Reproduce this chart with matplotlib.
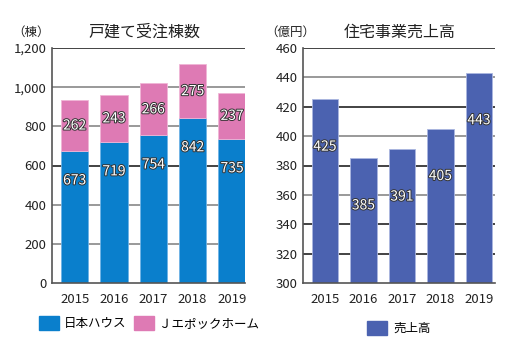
import matplotlib
matplotlib.use("Agg")
import matplotlib.pyplot as plt
import matplotlib.patheffects as pe
from matplotlib.patches import Patch

plt.rcParams['font.family'] = ['Noto Sans CJK JP', 'DejaVu Sans']

# - DATA - #
years = ['2015', '2016', '2017', '2018', '2019']
nihon_house = [673, 719, 754, 842, 735]
jepoch_home = [262, 243, 266, 275, 237]
sales = [425, 385, 391, 405, 443]

blue = '#0a7fcc'
pink = '#de7ab4'
navy = '#4b62b0'
dark = '#222222'
gray = '#888888'

fig = plt.figure(figsize=(5.05, 3.47), dpi=100)
W, H = 505, 347

def px_axes(x0, x1, y0, y1):
    return fig.add_axes([x0 / W, 1 - y1 / H, (x1 - x0) / W, (y1 - y0) / H])

stroke = [pe.withStroke(linewidth=1.4, foreground='#333333')]

def style(ax, ticks, grid_colors, labels):
    for y, c in zip(ticks[1:], grid_colors):
        ax.axhline(y, color=c, lw=1.2, zorder=1)
    ax.set_yticks(ticks)
    ax.set_yticklabels(labels, fontsize=9.5, color='#222222')
    ax.set_xticks(range(len(years)))
    ax.set_xticklabels(years, fontsize=9.5, color='#222222')
    ax.tick_params(axis='both', length=0)
    ax.tick_params(axis='x', pad=7)
    ax.tick_params(axis='y', pad=4)
    for s in ['top', 'right']:
        ax.spines[s].set_visible(False)
    ax.spines['left'].set_color('#555555')
    ax.spines['bottom'].set_color('#555555')
    ax.spines['left'].set_linewidth(1.2)
    ax.spines['bottom'].set_linewidth(1.2)

# - LEFT: 戸建て受注棟数 - #
ax1 = px_axes(52, 245, 48, 283)
x = range(len(years))
ax1.bar(x, nihon_house, width=0.69, color=blue, edgecolor='#6fb3e6', lw=0.6, zorder=2)
ax1.bar(x, jepoch_home, width=0.69, bottom=nihon_house, color=pink, edgecolor='#f0b6d6', lw=0.6, zorder=2)
ax1.set_xlim(-0.575, 4.33)
ax1.set_ylim(0, 1200)
lt = [0, 200, 400, 600, 800, 1000, 1200]
style(ax1, lt, [gray, gray, dark, gray, gray, dark], ['0', '200', '400', '600', '800', '1,000', '1,200'])
for i in x:
    ax1.annotate(str(nihon_house[i]), (i, nihon_house[i]), xytext=(0, -21), textcoords='offset points',
                 ha='center', va='center', fontsize=10, color='white', path_effects=stroke, zorder=3)
    ax1.text(i, nihon_house[i] + jepoch_home[i] / 2, str(jepoch_home[i]), ha='center', va='center',
             fontsize=10, color='white', path_effects=stroke, zorder=3)

# - RIGHT: 住宅事業売上高 - #
ax2 = px_axes(303, 495, 48, 283)
ax2.bar(x, sales, width=0.69, color=navy, edgecolor='#aab6e0', lw=0.6, zorder=2)
ax2.set_xlim(-0.57, 4.42)
ax2.set_ylim(300, 460)
rt = [300, 320, 340, 360, 380, 400, 420, 440, 460]
style(ax2, rt, [dark, dark, gray, dark, gray, dark, gray, dark], [str(v) for v in rt])
for i in x:
    ax2.annotate(str(sales[i]), (i, sales[i]), xytext=(0, -34), textcoords='offset points',
                 ha='center', va='center', fontsize=10, color='white', path_effects=stroke, zorder=3)

# - TITLES - #
fig.text(144 / W, 1 - 32 / H, '戸建て受注棟数', ha='center', va='center', fontsize=11.5, color='#222222')
fig.text(31 / W, 1 - 32 / H, '（棟）', ha='center', va='center', fontsize=9, color='#222222')
fig.text(400 / W, 1 - 32 / H, '住宅事業売上高', ha='center', va='center', fontsize=11.5, color='#222222')
fig.text(290 / W, 1 - 32 / H, '（億円）', ha='center', va='center', fontsize=9, color='#222222')

# - LEGENDS - #
fig.legend(handles=[Patch(color=blue, label='日本ハウス'), Patch(color=pink, label='Ｊエポックホーム')],
           loc='center left', bbox_to_anchor=(28 / W, 1 - 323 / H), ncol=2, frameon=False,
           fontsize=9, handlelength=1.6, handleheight=1.3, handletextpad=0.4, columnspacing=0.6)
fig.legend(handles=[Patch(color=navy, label='売上高')],
           loc='center left', bbox_to_anchor=(356 / W, 1 - 328 / H), frameon=False,
           fontsize=9, handlelength=1.6, handleheight=1.3, handletextpad=0.5)

fig.savefig('out.png', dpi=100)
